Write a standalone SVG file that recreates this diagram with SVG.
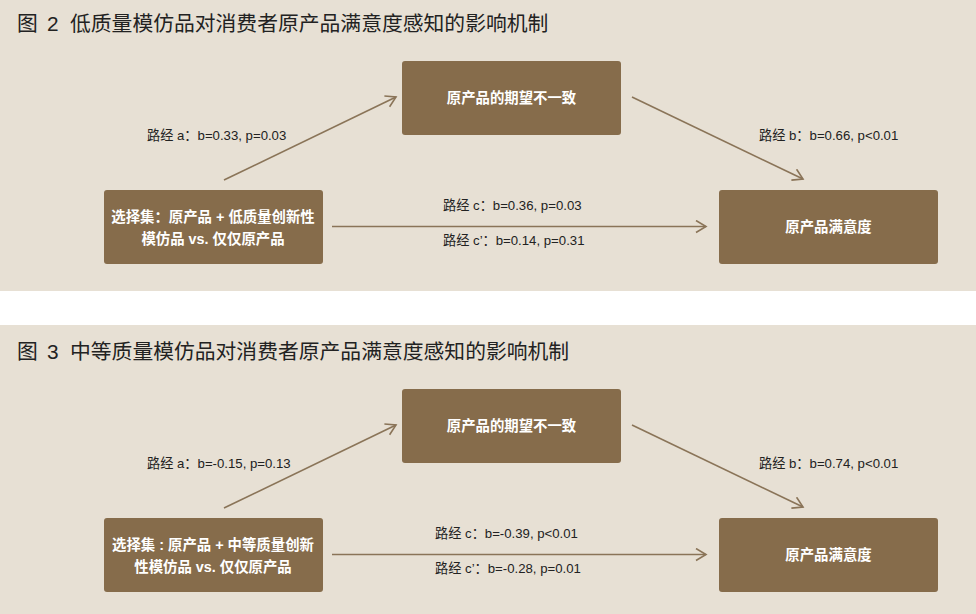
<svg xmlns="http://www.w3.org/2000/svg" width="976" height="614" viewBox="0 0 976 614">
<defs>
<marker id="arr" markerUnits="userSpaceOnUse" markerWidth="16" markerHeight="16" refX="11" refY="7" orient="auto" viewBox="0 0 16 16">
<path d="M1,1 L11,7 L1,13" fill="none" stroke="#8a7458" stroke-width="1.6"/>
</marker>
</defs>
<style>
.bg{fill:#e7e0d4}
.title{font-family:"Liberation Sans","Noto Sans CJK SC",sans-serif;font-size:20.8px;fill:#222}
.box{fill:#866c4b}
.bt{font-family:"Liberation Sans","Noto Sans CJK SC",sans-serif;font-size:14.4px;font-weight:bold;fill:#fff;text-anchor:middle}
.lbl{font-family:"Liberation Sans","Noto Sans CJK SC",sans-serif;font-size:13.2px;fill:#222}
.ln{stroke:#8a7458;stroke-width:1.6;fill:none;marker-end:url(#arr)}
</style>
<rect x="0" y="0" width="976" height="614" fill="#ffffff"/>
<rect class="bg" x="0" y="0" width="976" height="291"/>
<rect class="bg" x="0" y="325" width="976" height="289"/>
<text class="title" y="31"><tspan x="17">图</tspan><tspan x="47">2</tspan><tspan x="70">低质量模仿品对消费者原产品满意度感知的影响机制</tspan></text>
<text class="title" y="359"><tspan x="17">图</tspan><tspan x="47">3</tspan><tspan x="70">中等质量模仿品对消费者原产品满意度感知的影响机制</tspan></text>

<g id="connectors">
<line class="ln" x1="224" y1="180" x2="396" y2="97"/>
<line class="ln" x1="632" y1="97" x2="803" y2="179"/>
<line class="ln" x1="332" y1="226.5" x2="706" y2="226.5"/>
<line class="ln" x1="224" y1="508" x2="396" y2="425"/>
<line class="ln" x1="632" y1="425" x2="803" y2="507"/>
<line class="ln" x1="332" y1="554.5" x2="706" y2="554.5"/>
<text class="lbl" x="147" y="140">路经 a：b=0.33, p=0.03</text>
<text class="lbl" x="759" y="140">路经 b：b=0.66, p&lt;0.01</text>
<text class="lbl" x="443" y="210">路经 c：b=0.36, p=0.03</text>
<text class="lbl" x="443" y="245">路经 c’：b=0.14, p=0.31</text>
<text class="lbl" x="147" y="468">路经 a：b=-0.15, p=0.13</text>
<text class="lbl" x="759" y="468">路经 b：b=0.74, p&lt;0.01</text>
<text class="lbl" x="435" y="538">路经 c：b=-0.39, p&lt;0.01</text>
<text class="lbl" x="435" y="573">路经 c’：b=-0.28, p=0.01</text>
</g>

<g id="n1-mediator">
<rect class="box" x="402" y="61" width="219" height="74" rx="3"/>
<text class="bt" x="511.5" y="103">原产品的期望不一致</text>
</g>
<g id="n1-choice">
<rect class="box" x="104" y="190" width="219" height="74" rx="3"/>
<text class="bt" x="213" y="222">选择集：原产品 + 低质量创新性</text>
<text class="bt" x="213" y="243.5">模仿品 vs. 仅仅原产品</text>
</g>
<g id="n1-satisfaction">
<rect class="box" x="719" y="190" width="219" height="74" rx="3"/>
<text class="bt" x="828.5" y="232">原产品满意度</text>
</g>

<g id="n2-mediator">
<rect class="box" x="402" y="389" width="219" height="74" rx="3"/>
<text class="bt" x="511.5" y="431">原产品的期望不一致</text>
</g>
<g id="n2-choice">
<rect class="box" x="104" y="518" width="219" height="74" rx="3"/>
<text class="bt" x="213" y="550">选择集 : 原产品 + 中等质量创新</text>
<text class="bt" x="213" y="571.5">性模仿品 vs. 仅仅原产品</text>
</g>
<g id="n2-satisfaction">
<rect class="box" x="719" y="518" width="219" height="74" rx="3"/>
<text class="bt" x="828.5" y="560">原产品满意度</text>
</g>
</svg>
